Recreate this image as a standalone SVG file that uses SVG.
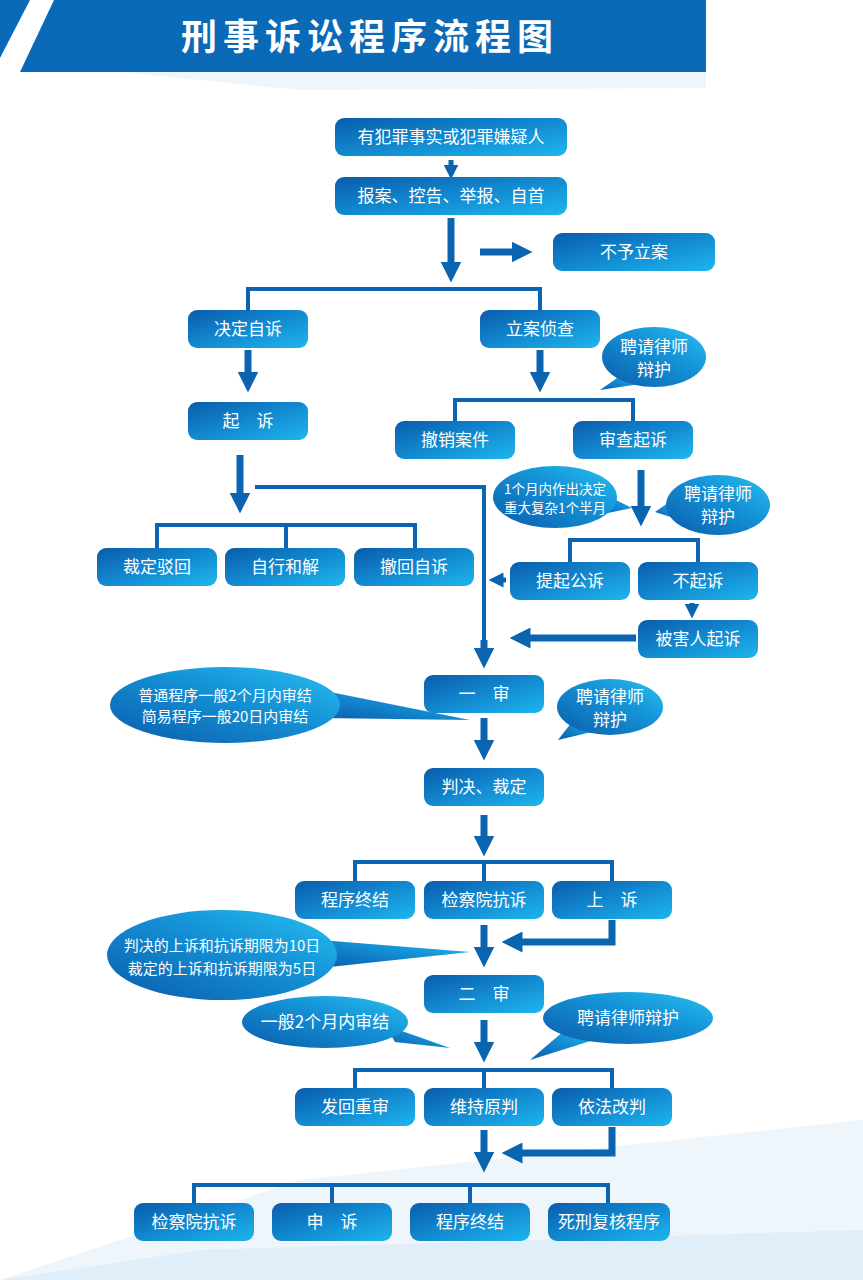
<svg xmlns="http://www.w3.org/2000/svg" width="863" height="1280" viewBox="0 0 863 1280">
<defs>
<linearGradient id="g" x1="0" y1="0" x2="1" y2="1"><stop offset="0" stop-color="#0a5cab"/><stop offset="0.5" stop-color="#1289d0"/><stop offset="1" stop-color="#1eb6ee"/></linearGradient>
<linearGradient id="c" x1="0" y1="1" x2="1" y2="0"><stop offset="0" stop-color="#0a5cab"/><stop offset="0.6" stop-color="#1594d8"/><stop offset="1" stop-color="#28c0f0"/></linearGradient>
<marker id="a" viewBox="0 0 10 10" refX="5" refY="5" markerWidth="3" markerHeight="3" orient="auto"><path d="M0,0L10,5L0,10z" fill="#0a64b0"/></marker>
<style>
.b{fill:url(#g)}
.cl{fill:url(#c)}
text{font-family:"Noto Sans CJK SC","Noto Sans",sans-serif;fill:#fff;font-size:17px;text-anchor:middle}
.sm{font-size:15px}
.xs{font-size:13.5px}
.ln{stroke:#0a64b0;stroke-width:4;fill:none}
.ar{stroke:#0a64b0;stroke-width:7;fill:none;marker-end:url(#a)}
</style>
</defs>
<rect width="863" height="1280" fill="#fff"/>
<polygon points="0,1280 300,1180 863,1120 863,1280" fill="#eef5fb"/>
<polygon points="0,1280 200,1250 863,1230 863,1280" fill="#dfeef8"/>
<polygon points="120,72 706,72 706,88 300,90" fill="#eef6fb"/>
<polygon points="0,0 30,0 0,58" fill="#0a6ab8"/>
<polygon points="54,0 706,0 706,72 20,72" fill="#0a6ab8"/>
<text x="370" y="50" style="font-size:36px;font-weight:bold;letter-spacing:6px">刑事诉讼程序流程图</text>

<g id="connectors">
<path class="ar" d="M451,160V172" style="stroke-width:5"/>
<path class="ar" d="M451,218V272"/>
<path class="ar" d="M480,252H522"/>
<path class="ln" d="M248,310V289H540V310"/>
<path class="ar" d="M248,350V382"/>
<path class="ar" d="M540,350V382"/>
<path class="ln" d="M455,421V400H633V421"/>
<path class="ar" d="M240,455V503"/>
<path class="ln" d="M157,548V525H415V548M286,525V548"/>
<path class="ln" d="M255,487H484V658"/>
<path class="ar" d="M484,640V658"/>
<path class="ar" d="M641,470V516"/>
<path class="ln" d="M570,562V540H698V562"/>
<path class="ar" d="M506,580H496" style="stroke-width:5"/>
<path class="ar" d="M692,603V611" style="stroke-width:5"/>
<path class="ar" d="M636,638H520"/>
<path class="ar" d="M484,718V750"/>
<path class="ar" d="M484,815V846"/>
<path class="ln" d="M355,881V862H612V881M484,862V881"/>
<path class="ar" d="M484,925V957"/>
<path class="ar" d="M612,920V942H512"/>
<path class="ar" d="M484,1020V1052"/>
<path class="ln" d="M355,1088V1070H612V1088M484,1070V1088"/>
<path class="ar" d="M484,1130V1162"/>
<path class="ar" d="M612,1127V1153H512"/>
<path class="ln" d="M194,1203V1185H608V1203M332,1185V1203M470,1185V1203"/>
</g>

<g id="n1"><rect class="b" x="335" y="118" width="232" height="38" rx="9"/><text x="451" y="143">有犯罪事实或犯罪嫌疑人</text></g>
<g id="n2"><rect class="b" x="335" y="177" width="232" height="38" rx="9"/><text x="451" y="202">报案、控告、举报、自首</text></g>
<g id="n3"><rect class="b" x="553" y="233" width="162" height="38" rx="9"/><text x="634" y="258">不予立案</text></g>
<g id="n4"><rect class="b" x="188" y="310" width="120" height="38" rx="9"/><text x="248" y="335">决定自诉</text></g>
<g id="n5"><rect class="b" x="480" y="310" width="120" height="38" rx="9"/><text x="540" y="335">立案侦查</text></g>
<g id="n6"><rect class="b" x="188" y="402" width="120" height="38" rx="9"/><text x="248" y="427">起　诉</text></g>
<g id="n7"><rect class="b" x="395" y="421" width="120" height="38" rx="9"/><text x="455" y="446">撤销案件</text></g>
<g id="n8"><rect class="b" x="573" y="421" width="120" height="38" rx="9"/><text x="633" y="446">审查起诉</text></g>
<g id="n9"><rect class="b" x="97" y="548" width="120" height="38" rx="9"/><text x="157" y="573">裁定驳回</text></g>
<g id="n10"><rect class="b" x="225" y="548" width="120" height="38" rx="9"/><text x="285" y="573">自行和解</text></g>
<g id="n11"><rect class="b" x="354" y="548" width="120" height="38" rx="9"/><text x="414" y="573">撤回自诉</text></g>
<g id="n12"><rect class="b" x="510" y="562" width="120" height="38" rx="9"/><text x="570" y="587">提起公诉</text></g>
<g id="n13"><rect class="b" x="638" y="562" width="120" height="38" rx="9"/><text x="698" y="587">不起诉</text></g>
<g id="n14"><rect class="b" x="638" y="620" width="120" height="38" rx="9"/><text x="698" y="645">被害人起诉</text></g>
<g id="n15"><rect class="b" x="424" y="675" width="120" height="38" rx="9"/><text x="484" y="700">一　审</text></g>
<g id="n16"><rect class="b" x="424" y="768" width="120" height="38" rx="9"/><text x="484" y="793">判决、裁定</text></g>
<g id="n17"><rect class="b" x="295" y="881" width="120" height="38" rx="9"/><text x="355" y="906">程序终结</text></g>
<g id="n18"><rect class="b" x="424" y="881" width="120" height="38" rx="9"/><text x="484" y="906">检察院抗诉</text></g>
<g id="n19"><rect class="b" x="552" y="881" width="120" height="38" rx="9"/><text x="612" y="906">上　诉</text></g>
<g id="n20"><rect class="b" x="424" y="975" width="120" height="38" rx="9"/><text x="484" y="1000">二　审</text></g>
<g id="n21"><rect class="b" x="295" y="1088" width="120" height="38" rx="9"/><text x="355" y="1113">发回重审</text></g>
<g id="n22"><rect class="b" x="424" y="1088" width="120" height="38" rx="9"/><text x="484" y="1113">维持原判</text></g>
<g id="n23"><rect class="b" x="552" y="1088" width="120" height="38" rx="9"/><text x="612" y="1113">依法改判</text></g>
<g id="n24"><rect class="b" x="134" y="1203" width="120" height="38" rx="9"/><text x="194" y="1228">检察院抗诉</text></g>
<g id="n25"><rect class="b" x="272" y="1203" width="120" height="38" rx="9"/><text x="332" y="1228">申　诉</text></g>
<g id="n26"><rect class="b" x="410" y="1203" width="120" height="38" rx="9"/><text x="470" y="1228">程序终结</text></g>
<g id="n27"><rect class="b" x="548" y="1203" width="122" height="38" rx="9"/><text x="609" y="1228">死刑复核程序</text></g>

<g id="c1"><path class="cl" d="M620,376L600,390L640,384Z"/><ellipse class="cl" cx="654" cy="357" rx="52" ry="30"/><text x="654" y="353">聘请律师</text><text x="654" y="376">辩护</text></g>
<g id="c2"><path class="cl" d="M600,492L632,508L598,515Z"/><ellipse class="cl" cx="555" cy="497" rx="62" ry="31"/><text class="xs" x="555" y="494">1个月内作出决定</text><text class="xs" x="555" y="513">重大复杂1个半月</text></g>
<g id="c3"><path class="cl" d="M672,500L655,512L680,520Z"/><ellipse class="cl" cx="718" cy="505" rx="52" ry="30"/><text x="718" y="500">聘请律师</text><text x="718" y="523">辩护</text></g>
<g id="c4"><path class="cl" d="M320,690L470,720L320,718Z"/><ellipse class="cl" cx="225" cy="705" rx="115" ry="38"/><text class="sm" x="225" y="701">普通程序一般2个月内审结</text><text class="sm" x="225" y="722">简易程序一般20日内审结</text></g>
<g id="c5"><path class="cl" d="M575,718L558,740L600,730Z"/><ellipse class="cl" cx="610" cy="707" rx="53" ry="28"/><text x="610" y="703">聘请律师</text><text x="610" y="726">辩护</text></g>
<g id="c6"><path class="cl" d="M320,940L470,952L320,968Z"/><ellipse class="cl" cx="222" cy="955" rx="115" ry="45"/><text class="sm" x="222" y="951">判决的上诉和抗诉期限为10日</text><text class="sm" x="222" y="974">裁定的上诉和抗诉期限为5日</text></g>
<g id="c7"><path class="cl" d="M385,1025L450,1048L395,1042Z"/><ellipse class="cl" cx="325" cy="1022" rx="83" ry="26"/><text x="325" y="1028">一般2个月内审结</text></g>
<g id="c8"><path class="cl" d="M565,1030L530,1060L600,1038Z"/><ellipse class="cl" cx="628" cy="1018" rx="85" ry="26"/><text x="628" y="1024">聘请律师辩护</text></g>
</svg>
